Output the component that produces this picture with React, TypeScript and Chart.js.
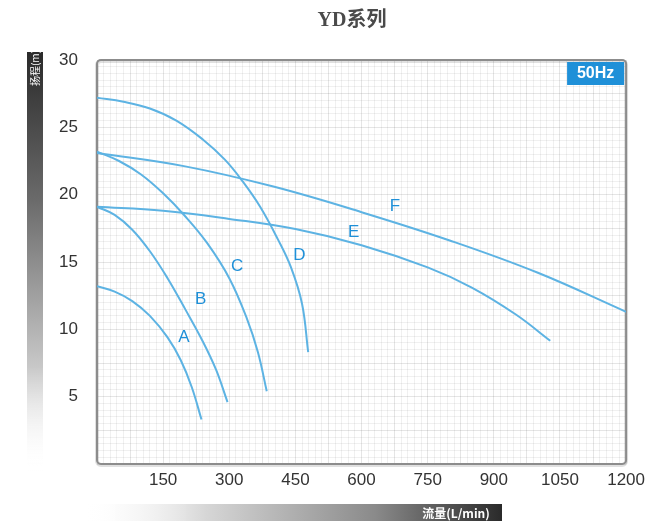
import React, { useEffect, useRef } from "react";
import { Chart, registerables } from "chart.js";
Chart.register(...registerables);

const titleText = "YD系列";
const yAxisTitle = "扬程(m)";
const xAxisTitle = "流量(L/min)";
const badgeText = "50Hz";

const xLabelValues = [150, 300, 450, 600, 750, 900, 1050, 1200];
const yLabelValues = [5, 10, 15, 20, 25, 30];

const curveA = [[0, 13.2], [40, 12.8], [80, 12.1], [120, 11.0], [160, 9.4], [190, 7.7], [215, 5.7], [237, 3.3]];
const curveB = [[0, 19.1], [40, 18.5], [80, 17.4], [120, 15.8], [160, 13.8], [200, 11.5], [240, 9.1], [270, 7.0], [296, 4.6]];
const curveC = [[0, 23.2], [50, 22.5], [100, 21.5], [150, 20.1], [200, 18.4], [250, 16.4], [300, 13.8], [340, 10.8], [365, 8.3], [385, 5.4]];
const curveD = [[0, 27.2], [60, 26.9], [120, 26.4], [180, 25.5], [240, 24.1], [290, 22.6], [330, 21.0], [370, 19.1], [410, 16.7], [440, 14.6], [465, 11.9], [479, 8.3]];
const curveE = [[0, 19.1], [150, 18.8], [300, 18.2], [450, 17.45], [600, 16.25], [750, 14.6], [850, 13.1], [950, 11.1], [1028, 9.15]];
const curveF = [[0, 23.1], [200, 22.1], [400, 20.6], [600, 18.7], [800, 16.6], [1000, 14.2], [1200, 11.3]];

const curveNames = ["A", "B", "C", "D", "E", "F"];
const curves = [curveA, curveB, curveC, curveD, curveE, curveF];
const labelPositions = [[197, 9.4], [235, 12.2], [318, 14.7], [459, 15.5], [582, 17.2], [676, 19.1]];

const LINE = "#5db3e3";
const BLUE = "#1f90d8";

const overlayPlugin = {
  id: "overlay",
  beforeDatasetsDraw(chart: any) {
    const { ctx, chartArea: a } = chart;
    ctx.save();
    ctx.strokeStyle = "rgba(0,0,0,0.12)";
    ctx.lineWidth = 4;
    ctx.beginPath();
    ctx.roundRect(a.left, a.top + 1, a.right - a.left, a.bottom - a.top, 4);
    ctx.stroke();
    ctx.strokeStyle = "#8c8c8c";
    ctx.lineWidth = 2;
    ctx.beginPath();
    ctx.roundRect(a.left, a.top, a.right - a.left, a.bottom - a.top, 4);
    ctx.stroke();
    ctx.restore();
  },
  beforeDraw(chart: any) {
    const { ctx } = chart;
    ctx.save();
    const gy = ctx.createLinearGradient(0, 52, 0, 472);
    gy.addColorStop(0, "#2a2a2a");
    gy.addColorStop(0.35, "#6a6a6a");
    gy.addColorStop(0.75, "#c8c8c8");
    gy.addColorStop(1, "rgba(255,255,255,0)");
    ctx.fillStyle = gy;
    ctx.fillRect(27, 52, 16, 420);
    ctx.save();
    ctx.translate(35, 68);
    ctx.rotate(-Math.PI / 2);
    ctx.fillStyle = "#ffffff";
    ctx.font = "10px 'Noto Sans CJK SC', sans-serif";
    ctx.textAlign = "center";
    ctx.textBaseline = "middle";
    ctx.fillText(yAxisTitle, 0, 0);
    ctx.restore();

    const gx = ctx.createLinearGradient(80, 0, 502, 0);
    gx.addColorStop(0, "rgba(255,255,255,0)");
    gx.addColorStop(0.3, "#d6d6d6");
    gx.addColorStop(0.7, "#8a8a8a");
    gx.addColorStop(1, "#2a2a2a");
    ctx.fillStyle = gx;
    ctx.fillRect(80, 504, 422, 17);
    ctx.fillStyle = "#ffffff";
    ctx.font = "bold 12px 'Noto Sans CJK SC', sans-serif";
    ctx.textAlign = "center";
    ctx.textBaseline = "middle";
    ctx.fillText(xAxisTitle, 456, 513);
    ctx.restore();
  },
  afterDraw(chart: any) {
    const { ctx, chartArea: a, scales } = chart;
    ctx.save();
    ctx.fillStyle = "#4a4a4a";
    ctx.font = "bold 20px 'Liberation Serif', 'Noto Sans CJK SC', serif";
    ctx.textAlign = "center";
    ctx.textBaseline = "middle";
    ctx.fillText(titleText, 352, 21);

    ctx.fillStyle = BLUE;
    ctx.fillRect(a.right - 59, a.top + 2, 57, 23);
    ctx.fillStyle = "#ffffff";
    ctx.font = "bold 16px 'Liberation Sans', sans-serif";
    ctx.textAlign = "center";
    ctx.fillText(badgeText, a.right - 30.5, a.top + 14);

    ctx.fillStyle = BLUE;
    ctx.font = "17px 'Liberation Sans', sans-serif";
    labelPositions.forEach((p, i) => {
      const x = scales.x.getPixelForValue(p[0]);
      const y = scales.y.getPixelForValue(p[1]);
      ctx.fillText(curveNames[i], x, y);
    });
    ctx.restore();
  },
};

export default function App() {
  const ref = useRef<HTMLCanvasElement>(null);
  useEffect(() => {
    const canvas = ref.current!;
    const chart = new Chart(canvas, {
      type: "line",
      data: {
        datasets: curves.map((c, i) => ({
          label: curveNames[i],
          data: c.map((p) => ({ x: p[0], y: p[1] })),
          borderColor: LINE,
          borderWidth: 2,
          pointRadius: 0,
          fill: false,
          tension: 0.4,
        })),
      },
      plugins: [overlayPlugin],
      options: {
        responsive: false,
        animation: false,
        layout: { padding: { left: 0, right: 18, top: 60, bottom: 0 } },
        plugins: { legend: { display: false }, tooltip: { enabled: false }, title: { display: false } },
        scales: {
          x: {
            type: "linear",
            min: 0,
            max: 1200,
            afterFit: (s: any) => { s.height = 59; },
            ticks: {
              stepSize: 15,
              autoSkip: false,
              maxRotation: 0,
              padding: 6,
              color: "#333",
              font: { size: 17, family: "'Liberation Sans', sans-serif" },
              callback: (v: any) => (xLabelValues.includes(Math.round(v)) && Math.abs(v - Math.round(v)) < 1e-6 ? String(Math.round(v)) : ""),
            },
            grid: {
              drawTicks: false,
              color: (c: any) => (c.tick && Math.round(c.tick.value) % 75 === 0 ? "rgba(0,0,0,0.10)" : "rgba(0,0,0,0.06)"),
            },
            border: { display: false },
          },
          y: {
            type: "linear",
            min: 0,
            max: 30,
            afterFit: (s: any) => { s.width = 97; },
            ticks: {
              stepSize: 0.5,
              autoSkip: false,
              padding: 19,
              color: "#333",
              font: { size: 17, family: "'Liberation Sans', sans-serif" },
              callback: (v: any) => (yLabelValues.includes(v) ? String(v) : ""),
            },
            grid: {
              drawTicks: false,
              color: (c: any) => (c.tick && Math.abs(c.tick.value % 2.5) < 1e-6 ? "rgba(0,0,0,0.10)" : "rgba(0,0,0,0.06)"),
            },
            border: { display: false },
          },
        },
      },
    });
    return () => chart.destroy();
  }, []);
  return (
    <div style={{ position: "fixed", left: 0, top: 0, width: 651, height: 523, background: "#fff" }}>
      <canvas ref={ref} width={651} height={523} style={{ width: 651, height: 523, display: "block" }} />
    </div>
  );
}
